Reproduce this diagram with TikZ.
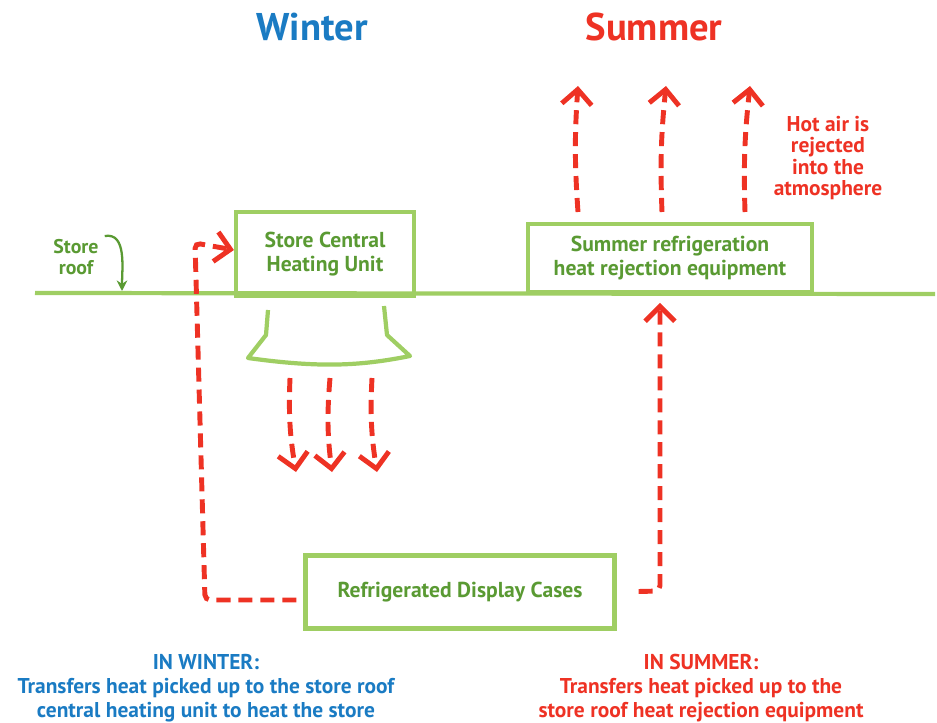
\documentclass[tikz,border=0pt]{standalone}
\usepackage{fontspec}
\setmainfont{PT Sans}
\usetikzlibrary{arrows.meta}

\definecolor{verdeclaro}{HTML}{9FCE63}
\definecolor{verdetexto}{HTML}{5A9A33}
\definecolor{rojo}{HTML}{EE3224}
\definecolor{azul}{HTML}{1A7BC3}

\tikzstyle{equipo}= [rectangle,draw=verdeclaro,line width=2.4pt,text=verdetexto,align=center,font=\bfseries\fontsize{12.3}{13.6}\selectfont]
\tikzstyle{calor}= [rojo,line width=2.8pt,dash pattern=on 8pt off 4.5pt,-{Straight Barb[length=8.5pt,width=17pt]}]
\tikzstyle{titulo}= [font=\bfseries\fontsize{22}{26}\selectfont]
\tikzstyle{nota}= [align=center,font=\bfseries\fontsize{12.2}{13.6}\selectfont]

\begin{document}
\begin{tikzpicture}[x=0.02cm,y=-0.02cm]
		\useasboundingbox (0,0) rectangle (937,723);

		\node (invierno) at (312,27) [titulo,text=azul] {Winter};
		\node (verano) at (654,27) [titulo,text=rojo] {Summer};

		% roof line
		\coordinate (techoA) at (35,293);
		\coordinate (techoB) at (935,294);
		\draw[verdeclaro,line width=2.4pt] (techoA) -- (techoB);

		\node (calefaccion) at (325,254) [equipo,minimum width=3.56cm,minimum height=1.68cm] {Store Central\\Heating Unit};
		\node (rechazo) at (670,258) [equipo,minimum width=5.68cm,minimum height=1.36cm] {Summer refrigeration\\heat rejection equipment};
		\node (vitrinas) at (460,592) [equipo,minimum width=6.18cm,minimum height=1.46cm] {Refrigerated Display Cases};

		% outlet under the heating unit
		\draw[verdeclaro,line width=2.4pt,line join=round] (268,310) -- (266,335) -- (248,358)
			.. controls (320,368) and (360,366) .. (410,356) -- (387,335) -- (384,306);

		\node (techo) at (76,257) [text=verdetexto,align=center,font=\bfseries\fontsize{11.3}{12}\selectfont] {Store\\roof};
		\coordinate (techoP) at (122,291);
		\draw[verdetexto,line width=1.3pt,-{Stealth[length=6pt,width=6pt]}] (techo.north east) ++(0,3) to[out=10,in=90] (techoP);

		\node (aire) at (828,158) [nota,text=rojo,font=\bfseries\fontsize{12.2}{12}\selectfont] {Hot air is\\rejected\\into the\\atmosphere};

		% warm air into the store
		\coordinate (b1) at (290,378); \coordinate (b1f) at (296,472);
		\coordinate (b2) at (330,378); \coordinate (b2f) at (332,472);
		\coordinate (b3) at (372,378); \coordinate (b3f) at (377,472);
		\path[calor] (b1) edge[bend right=6] (b1f);
		\path[calor] (b2) edge[bend right=6] (b2f);
		\path[calor] (b3) edge[bend right=6] (b3f);

		% hot air out of the rejection equipment
		\coordinate (s1) at (578,212); \coordinate (s1f) at (578,86);
		\coordinate (s2) at (662,212); \coordinate (s2f) at (666,86);
		\coordinate (s3) at (745,212); \coordinate (s3f) at (750,86);
		\path[calor] (s1) edge[bend left=4] (s1f);
		\path[calor] (s2) edge[bend left=4] (s2f);
		\path[calor] (s3) edge[bend left=4] (s3f);

		% winter and summer heat paths
		\coordinate (esqA) at (205,600);
		\coordinate (esqB) at (195,243);
		\coordinate (esqC) at (660,591);
		\draw[calor,rounded corners=3pt,shorten <=4pt] ([yshift=-8*0.02cm]vitrinas.west) -- (esqA) -- (esqB) -- ([yshift=4*0.02cm]calefaccion.west);
		\draw[calor,rounded corners=3pt,shorten <=22*0.02cm,shorten >=5pt] (vitrinas.east) -- (esqC) -- (esqC |- rechazo.south);

		\node (notaInv) at (206,688) [nota,text=azul] {IN WINTER:\\Transfers heat picked up to the store roof\\central heating unit to heat the store};
		\node (notaVer) at (701,688) [nota,text=rojo] {IN SUMMER:\\Transfers heat picked up to the\\store roof heat rejection equipment};
\end{tikzpicture}
\end{document}
